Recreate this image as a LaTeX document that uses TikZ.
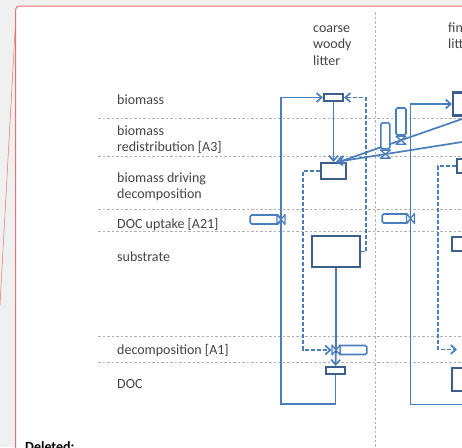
\documentclass[tikz,border=0pt]{standalone}
\usepackage{fontspec}
\setmainfont{Carlito}
\usetikzlibrary{arrows.meta,calc}
\definecolor{bgray}{HTML}{F0F0F0}
\definecolor{pagered}{HTML}{E57373}
\definecolor{flowblue}{HTML}{4A7EBB}
\definecolor{boxblue}{HTML}{3B5E8C}
\definecolor{gridgray}{HTML}{B0B0B0}
\definecolor{labelgray}{HTML}{454545}
\tikzset{
  valveh/.pic={\draw[flowblue, line width=1.3pt, fill=white, line join=round]
     (-4,-5) -- (0,0) -- (-4,5) -- cycle (4,-5) -- (0,0) -- (4,5) -- cycle;},
  valvev/.pic={\draw[flowblue, line width=1.3pt, fill=white, line join=round]
     (-5,-4) -- (0,0) -- (5,-4) -- cycle (-5,4) -- (0,0) -- (5,4) -- cycle;}
}
\begin{document}
\begin{tikzpicture}[x=1pt,y=-1pt,
  lbl/.style={anchor=base west, inner sep=0, font=\fontsize{14}{16}\selectfont, text=labelgray},
  dellbl/.style={anchor=base west, inner sep=0, font=\fontsize{14}{16}\selectfont\bfseries, text=black},
  gridline/.style={gridgray, line width=0.9pt, dash pattern=on 2.5pt off 2pt},
  stockbox/.style={draw=boxblue, line width=2.2pt, fill=white, inner sep=0},
  valvebar/.style={draw=flowblue, line width=1.6pt, fill=white, rounded corners=1.5pt, inner sep=0},
  flow/.style={flowblue, line width=1.7pt},
  info/.style={flowblue, line width=1.7pt, dash pattern=on 4pt off 2pt},
  arr/.style={-{Straight Barb[length=5pt,width=9pt]}}
]
\useasboundingbox (0,0) rectangle (462,447);
\clip (0,0) rectangle (462,447);
\fill[bgray] (0,0) rectangle (462,447);
\filldraw[fill=white, draw=pagered, line width=1pt, rounded corners=4pt]
  (15.5,470) -- (15.5,6) -- (466,6) -- (466,470);
\draw[pagered, line width=0.5pt] (15.5,22) -- (0,305);

% grid
\foreach \yy in {118,156,209,231,336,362} \draw[gridline] (98,\yy) -- (462,\yy);
\draw[gridline] (375,12) -- (375,447);

% labels
\node[lbl] (l1) at (117,104) {biomass};
\node[lbl] (l2a) at (117,135) {biomass};
\node[lbl] (l2b) at (117,151) {redistribution [A3]};
\node[lbl] (l3a) at (117,182) {biomass driving};
\node[lbl] (l3b) at (117,198) {decomposition};
\node[lbl] (l4) at (117,228) {DOC uptake [A21]};
\node[lbl] (l5) at (117,261) {substrate};
\node[lbl] (l6) at (117,354) {decomposition [A1]};
\node[lbl] (l7) at (117,388) {DOC};
\node[lbl] (h1a) at (313,32) {coarse};
\node[lbl] (h1b) at (313,48.5) {woody};
\node[lbl] (h1c) at (313,65) {litter};
\node[lbl] (h2a) at (448,32) {fine};
\node[lbl] (h2b) at (448,48.5) {litter};
\node[dellbl] (del) at (25,451) {Deleted:};

% stocks (coarse)
\node[stockbox, minimum width=19pt, minimum height=7pt] (cbio) at (333.5,97.5) {};
\node[stockbox, minimum width=25pt, minimum height=16pt] (cdrv) at (333.5,171) {};
\node[stockbox, minimum width=48pt, minimum height=31pt] (csub) at (336,251.5) {};
\node[stockbox, minimum width=19pt, minimum height=7pt] (cdoc) at (335.5,370.5) {};
% stocks (fine)
\node[stockbox, minimum width=30pt, minimum height=23pt, anchor=west] (fbio) at (452,104) {};
\node[stockbox, minimum width=30pt, minimum height=14pt, anchor=west] (fdrv) at (456,166) {};
\node[stockbox, minimum width=30pt, minimum height=14pt, anchor=north west] (fsub) at (451,236) {};
\node[stockbox, minimum width=30pt, minimum height=23pt, anchor=north west] (fdoc) at (451,367) {};

% coordinates
\coordinate (cbl) at (281,404);
\coordinate (cupv) at (281,219.5);
\coordinate (cdecv) at (336,350);
\coordinate (fbr) at (470,404.5);
\coordinate (fcorner) at (410.5,104);
\coordinate (fupv) at (410.5,218.5);
\coordinate (fdecin) at (457,349.5);
\coordinate (fa) at (462,119);
\coordinate (fb) at (462,142);
\coordinate (cdrvA) at ($(cdrv.north)+(5.5,0)$);
\coordinate (cdrvB) at ($(cdrv.north)+(2.5,0)$);
\path (fa) -- (cdrvA) coordinate[pos=0.496] (rv2);
\path (fb) -- (cdrvB) coordinate[pos=0.608] (rv1);

% flows (coarse)
\draw[flow,arr] (cdoc.south) |- (cbl) |- (cbio.west);
\draw[flow,arr] (cbio.south) -- (cdrv.north);
\draw[flow] (csub.south) -- (cdecv);
\draw[flow,arr] (cdecv) -- (cdoc.north);
\draw[info,arr] (cdrv.west) -| (303,350) -- ($(cdecv)+(-4.5,0)$);
\draw[info,arr] (csub.east) -- ++(5,0) |- (cbio.east);
% redistribution
\draw[flow,arr] (fa) -- (cdrvA);
\draw[flow,arr] (fb) -- (cdrvB);
% flows (fine)
\draw[flow,arr] (fbr) -| (fcorner) -- (fbio.west);
\draw[info,arr] (fdrv.west) -| (438,349.5) -- (fdecin);

% valves
\node[valvebar, minimum width=29pt, minimum height=9pt, anchor=east] (cupbar) at (280,219.5) {};
\pic at (cupv) {valveh};
\node[valvebar, minimum width=27pt, minimum height=9pt, anchor=west] (cdecbar) at (339,350) {};
\pic at (cdecv) {valveh};
\node[valvebar, minimum width=26pt, minimum height=9pt, anchor=east] (fupbar) at (409,218.5) {};
\pic at (fupv) {valveh};
\node[valvebar, minimum width=9pt, minimum height=26pt, anchor=south] (rbar1) at ($(rv1)+(0,-4.5)$) {};
\pic at (rv1) {valvev};
\node[valvebar, minimum width=10pt, minimum height=27pt, anchor=south] (rbar2) at ($(rv2)+(0,-4.5)$) {};
\pic at (rv2) {valvev};
\end{tikzpicture}
\end{document}
